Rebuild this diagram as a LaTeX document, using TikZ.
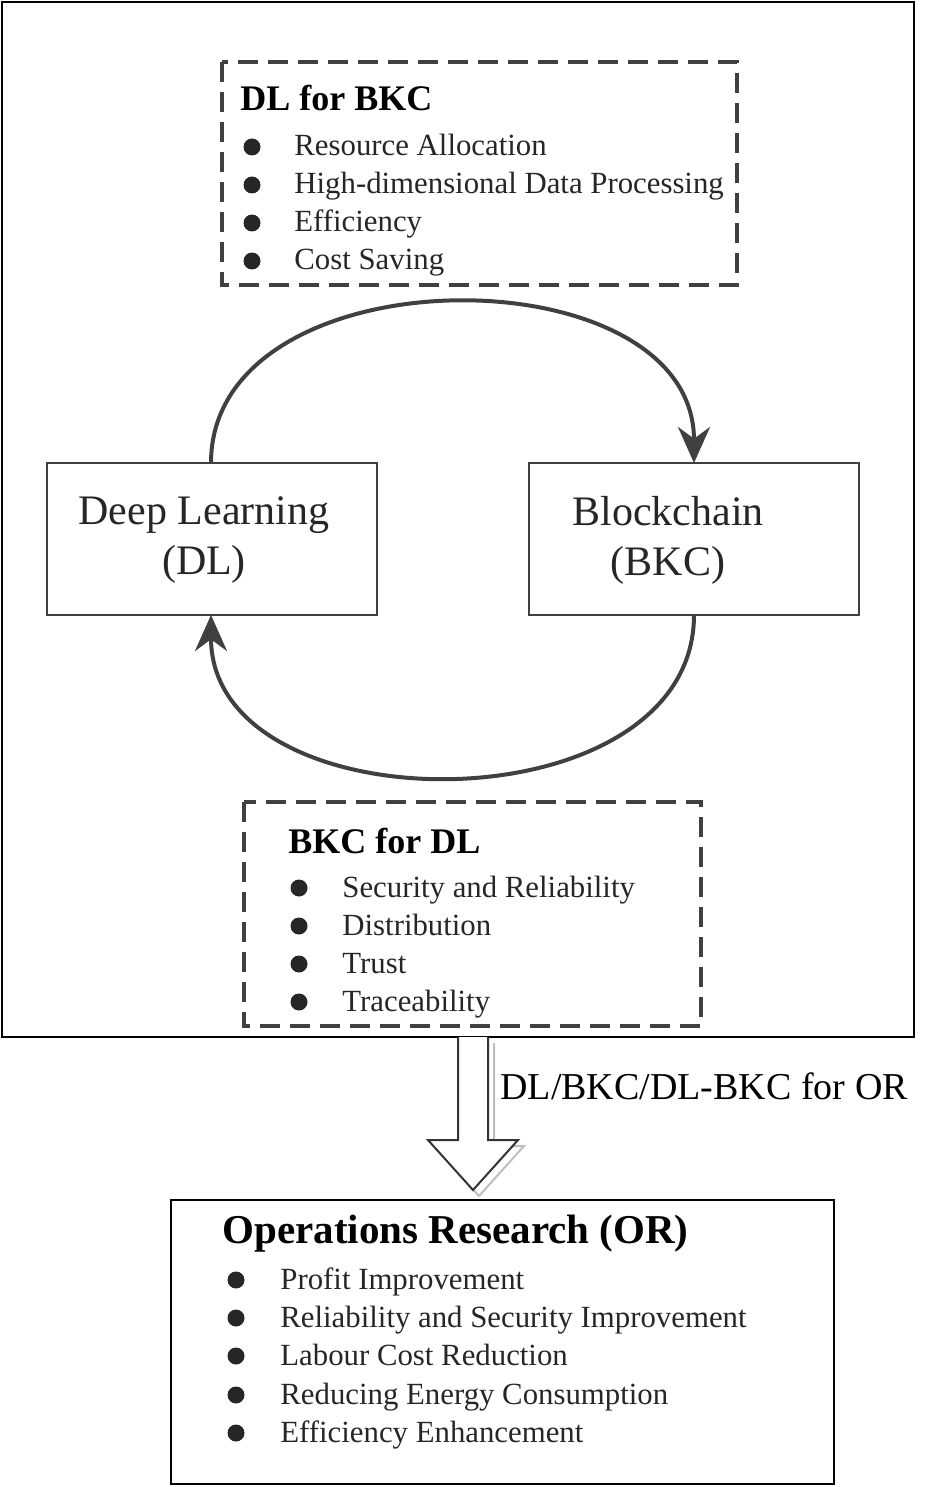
\documentclass[tikz,border=0pt]{standalone}
\usepackage{fontspec}
\setmainfont{Liberation Serif}
\usetikzlibrary{arrows.meta}
\begin{document}
\begin{tikzpicture}[x=0.5pt,y=-0.5pt,
  box/.style={draw=black!75,line width=0.6pt},
  dbox/.style={draw=black!75,line width=1.6pt,dash pattern=on 10pt off 5pt},
  item/.style={anchor=base west,inner sep=0pt,font=\fontsize{15.4}{16}\selectfont,text=black!85,yshift=-4.5pt},
  ttl/.style={anchor=base west,inner sep=0pt,font=\fontsize{18}{18}\selectfont\bfseries,yshift=-5.5pt},
  bul/.style={circle,fill=black!85,inner sep=0pt,minimum size=8.5pt},
  big/.style={align=center,font=\fontsize{21}{25}\selectfont,text=black!85},
  arc/.style={draw=black!75,line width=2pt,-{Stealth[length=18pt,width=16pt]}}]
\useasboundingbox (0,0) rectangle (944,1487);
\draw[line width=1.2pt] (2,2) rectangle (914,1037);
% top dashed
\draw[dbox] (222,62) rectangle (737,285);
\node[ttl] (t1) at (240,100) {DL for BKC};
\foreach \y/\t [count=\i] in {147/Resource Allocation,185/High-dimensional Data Processing,223/Efficiency,261/Cost Saving}{
  \node[bul] (ba\i) at (252,\y) {};
  \node[item] (ia\i) at (294,\y) {\t};}
% boxes
\draw[box] (47,463) rectangle (377,615);
\node[big] (dl) at (204,540) {Deep Learning\\(DL)};
\draw[box] (529,463) rectangle (859,615);
\node[big] (bkc) at (668,540) {Blockchain\\(BKC)};
\coordinate (a1) at (211,463); \coordinate (a2) at (694,463);
\coordinate (a3) at (694,615); \coordinate (a4) at (211,615);
\draw[arc] (a1) .. controls (211,250) and (694,250) .. (a2);
\draw[arc] (a3) .. controls (694,830) and (211,830) .. (a4);
% bottom dashed
\draw[dbox] (244,802) rectangle (701,1026);
\node[ttl] (t2) at (288,842) {BKC for DL};
\foreach \y/\t [count=\i] in {888/Security and Reliability,926/Distribution,964/Trust,1002/Traceability}{
  \node[bul] (bb\i) at (299,\y) {};
  \node[item] (ib\i) at (342,\y) {\t};}
% hollow arrow
\draw[black!25,line width=1pt] (494,1043) -- (494,1146) -- (524,1146) -- (479,1196) -- (470,1186);
\draw[black!80,line width=1pt,fill=white] (458,1037) -- (458,1140) -- (428,1140) -- (473,1190) -- (518,1140) -- (488,1140) -- (488,1037);
\node[anchor=base west,inner sep=0pt,font=\fontsize{19}{20}\selectfont,yshift=-6pt] (lab) at (500,1087) {DL/BKC/DL-BKC for OR};
% OR box
\draw[line width=1.2pt] (171,1200) rectangle (834,1484);
\node[anchor=base west,inner sep=0pt,font=\fontsize{20.5}{20}\selectfont\bfseries,yshift=-6.5pt] (t3) at (222,1230) {Operations Research (OR)};
\foreach \y/\t [count=\i] in {1280/Profit Improvement,1318/Reliability and Security Improvement,1356/Labour Cost Reduction,1395/Reducing Energy Consumption,1433/Efficiency Enhancement}{
  \node[bul] (bc\i) at (236,\y) {};
  \node[item] (ic\i) at (280,\y) {\t};}
\end{tikzpicture}
\end{document}
